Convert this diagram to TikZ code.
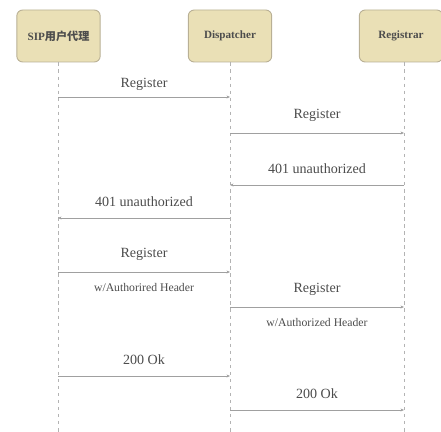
\documentclass[tikz,border=0pt]{standalone}
\usepackage{fontspec}
\setmainfont{Liberation Serif}
\newfontfamily\cjkfont{Noto Sans CJK SC}
\usetikzlibrary{arrows.meta}
\definecolor{boxfill}{HTML}{EAE0B6}
\definecolor{boxline}{HTML}{B9B095}
\definecolor{msgline}{HTML}{A0A0A0}

\begin{document}
\begin{tikzpicture}[
        x=0.03cm, y=-0.03cm,
        every node/.style={font=\fontsize{12}{14}\selectfont, text=black!70},
        actor/.style={rectangle, draw=boxline, thick, rounded corners=5pt, fill=boxfill, minimum width=2.5cm, minimum height=1.56cm, font=\fontsize{9.5}{11}\selectfont\bfseries, text=black!70},
        life/.style={dashed, msgline!80, thin},
        msg/.style={-{Stealth[length=3pt, width=2.5pt]}, msgline, thin},
        note/.style={font=\fontsize{10}{12}\selectfont}
    ]
    \useasboundingbox (0,0) rectangle (441,432);
%
    % Actors
    \node[actor] (sip) at (58.5,36) {SIP{\cjkfont 用户代理}};
    \node[actor] (disp) at (230,36) {Dispatcher};
    \node[actor] (reg) at (401,36) {Registrar};
%
    % Lifelines
    \coordinate (sip_end) at (58,432);
    \coordinate (disp_end) at (230,432);
    \coordinate (reg_end) at (404,432);
    \draw[life] (sip.south -| sip_end) -- (sip_end);
    \draw[life] (disp) -- (disp_end);
    \draw[life] (reg.south -| reg_end) -- (reg_end);
%
    % Messages
    \coordinate (m1a) at (58,97);   \coordinate (m1b) at (230,97);
    \coordinate (m2a) at (230,133); \coordinate (m2b) at (404,133);
    \coordinate (m3a) at (404,185); \coordinate (m3b) at (230,185);
    \coordinate (m4a) at (230,218); \coordinate (m4b) at (58,218);
    \coordinate (m5a) at (58,272);  \coordinate (m5b) at (230,272);
    \coordinate (m6a) at (230,307); \coordinate (m6b) at (404,307);
    \coordinate (m7a) at (58,376);  \coordinate (m7b) at (230,376);
    \coordinate (m8a) at (230,410); \coordinate (m8b) at (404,410);
%
    \draw[msg] (m1a) -- node[above=2pt] {Register} (m1b);
    \draw[msg] (m2a) -- node[above=6pt] {Register} (m2b);
    \draw[msg] (m3a) -- node[above=6pt] {401 unauthorized} (m3b);
    \draw[msg] (m4a) -- node[above=6pt] {401 unauthorized} (m4b);
    \draw[msg] (m5a) -- node[above=6pt] {Register} node[below=6pt, note] {w/Authorired Header} (m5b);
    \draw[msg] (m6a) -- node[above=6pt] {Register} node[below=6pt, note] {w/Authorized Header} (m6b);
    \draw[msg] (m7a) -- node[above=6pt] {200 Ok} (m7b);
    \draw[msg] (m8a) -- node[above=6pt] {200 Ok} (m8b);
%
\end{tikzpicture}
\end{document}
